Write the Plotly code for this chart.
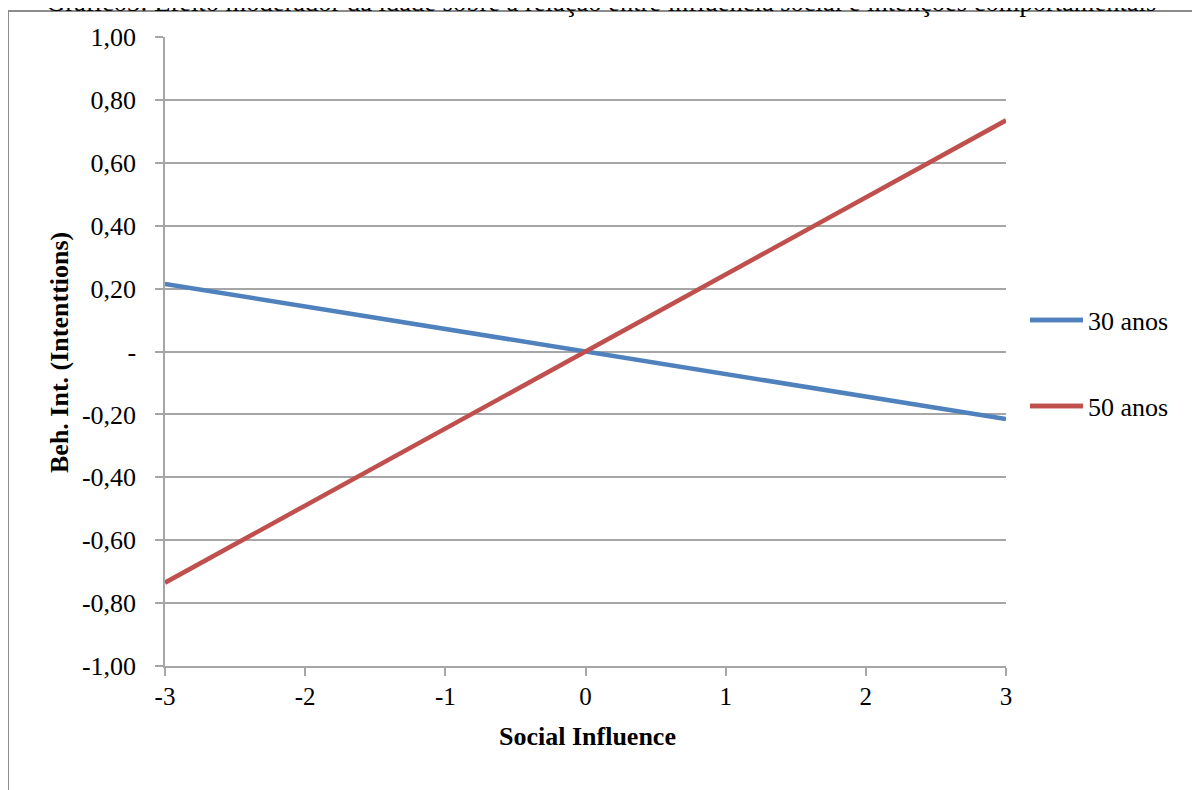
import plotly.graph_objects as go

x_vals = [-3, 3]
y_30 = [0.215, -0.215]
y_50 = [-0.735, 0.735]
series_names = ["30 anos", "50 anos"]
series_colors = ["#4F81BD", "#C0504D"]
y_tickvals = [1.0, 0.8, 0.6, 0.4, 0.2, 0.0, -0.2, -0.4, -0.6, -0.8, -1.0]
y_ticktext = ["1,00", "0,80", "0,60", "0,40", "0,20", "-", "-0,20", "-0,40", "-0,60", "-0,80", "-1,00"]
x_tickvals = [-3, -2, -1, 0, 1, 2, 3]
x_ticktext = ["-3", "-2", "-1", "0", "1", "2", "3"]
title_text = "Gráfico3: Efeito moderador da idade sobre a relação entre influência social e intenções comportamentais"
x_title = "Social Influence"
y_title = "Beh. Int. (Intenttions)"

FONT = "Liberation Serif"
OFF = 8  # page body margin
W, H = 1200 - OFF, 790 - OFF
L, R, T, B = 165 - OFF, 1006 - OFF, 37 - OFF, 666 - OFF
ml, mr, mt, mb = L, W - R, T, H - B
pw, ph = R - L, B - T

def px(p):
    return (p - OFF - L) / pw

def py(p):
    return (B - (p - OFF)) / ph

fig = go.Figure()
fig.add_trace(go.Scatter(x=x_vals, y=y_30, mode="lines", name=series_names[0],
                         line=dict(color=series_colors[0], width=4.5), legend="legend"))
fig.add_trace(go.Scatter(x=x_vals, y=y_50, mode="lines", name=series_names[1],
                         line=dict(color=series_colors[1], width=4.5), legend="legend2"))

grid = "#a6a6a6"
fig.update_layout(
    width=W, height=H,
    margin=dict(l=ml, r=mr, t=mt, b=mb, pad=0),
    paper_bgcolor="white", plot_bgcolor="white",
    font=dict(family=FONT, color="black", size=24),
    xaxis=dict(range=[-3, 3], tickvals=x_tickvals, ticktext=x_ticktext,
               showgrid=False, zeroline=False, showline=True, linecolor=grid, linewidth=1.5,
               ticks="outside", ticklen=8, tickcolor=grid, tickwidth=1.5,
               tickfont=dict(family=FONT, size=25), ticklabelstandoff=-1),
    yaxis=dict(range=[-1, 1], tickvals=y_tickvals, ticktext=y_ticktext,
               showgrid=True, gridcolor=grid, gridwidth=1.5, zeroline=False,
               showline=True, linecolor=grid, linewidth=1.5,
               ticks="outside", ticklen=8, tickcolor=grid, tickwidth=1.5,
               tickfont=dict(family=FONT, size=26), ticklabelstandoff=14),
    legend=dict(x=px(1025), y=py(320), xanchor="left", yanchor="middle", itemwidth=53,
                font=dict(family=FONT, size=26), bgcolor="rgba(0,0,0,0)"),
    legend2=dict(x=px(1025), y=py(406), xanchor="left", yanchor="middle", itemwidth=53,
                 font=dict(family=FONT, size=26), bgcolor="rgba(0,0,0,0)"),
    showlegend=True,
)

# extend legend line samples to match reference length
for yy, col in zip([320, 406], series_colors):
    fig.add_shape(type="line", xref="paper", yref="paper", x0=px(1030), x1=px(1083),
                  y0=py(yy), y1=py(yy), line=dict(color=col, width=4.5))

fig.add_annotation(text="<b>" + x_title + "</b>", xref="paper", yref="paper", x=px(587), y=py(737),
                   showarrow=False, font=dict(family=FONT, size=26, color="black"),
                   xanchor="center", yanchor="middle")
fig.add_annotation(text="<b>" + y_title + "</b>", xref="paper", yref="paper", x=px(60), y=py(353),
                   showarrow=False, textangle=-90, font=dict(family=FONT, size=26, color="black"),
                   xanchor="center", yanchor="middle")
fig.add_annotation(text=title_text, xref="paper", yref="paper", x=px(601), y=py(19),
                   showarrow=False, font=dict(family=FONT, size=26.5, color="black"),
                   xanchor="center", yanchor="bottom")
# outer chart frame (left and top edges visible)
fig.add_shape(type="rect", xref="paper", yref="paper", x0=px(8), x1=px(1250), y0=py(11), y1=py(850),
              line=dict(color="#8c8c8c", width=2), fillcolor="rgba(0,0,0,0)", layer="below")

fig.write_html("out.html")
